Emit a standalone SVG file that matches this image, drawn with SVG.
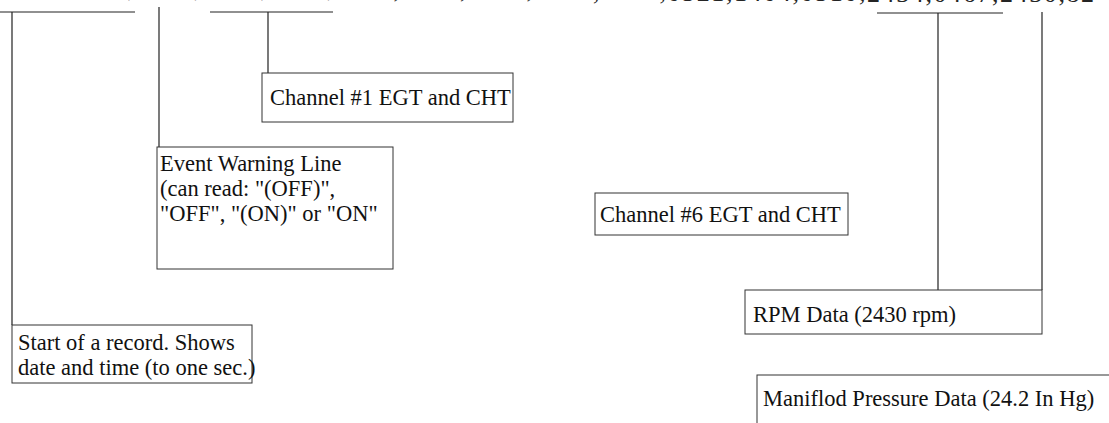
<svg xmlns="http://www.w3.org/2000/svg" width="1109" height="423" viewBox="0 0 1109 423">
<style>
text{font-family:"Liberation Serif","Times New Roman",serif;font-size:22.5px;fill:#111}
.data{font-size:26px;letter-spacing:1.6px;fill:#222;opacity:0.99}
.box{fill:#fff;stroke:#333;stroke-width:1}
.ln{stroke:#222;stroke-width:1.2;fill:none}
</style>
<rect width="1109" height="423" fill="#fff"/>
<text class="data" x="69" y="-3"><tspan>1401,0505,1398,0512,</tspan><tspan y="-2">1420,0519,1415,</tspan><tspan y="-0.5">0508,1412,</tspan><tspan y="0.5">0521,1404,0510,</tspan><tspan y="1.5">2434,0467,2430,82</tspan></text>
<g id="connectors">
<path class="ln" d="M0 12H135M12 12V325"/>
<path class="ln" d="M159 7V147"/>
<path class="ln" d="M210 12H333M268 12V73"/>
<path class="ln" d="M877 13H1003M938 13V290"/>
<path class="ln" d="M1042 12V290"/>
</g>
<g id="ch1"><rect class="box" x="262" y="73" width="251" height="49"/><text x="270" y="105">Channel #1 EGT and CHT</text></g>
<g id="event"><rect class="box" x="157" y="147" width="236" height="122"/><text x="160" y="171">Event Warning Line</text><text x="160" y="196">(can read: "(OFF)",</text><text x="160" y="221">"OFF", "(ON)" or "ON"</text></g>
<g id="ch6"><rect class="box" x="595" y="193" width="253" height="42"/><text x="600" y="222">Channel #6 EGT and CHT</text></g>
<g id="rpm"><rect class="box" x="745" y="290" width="297" height="44"/><text x="753" y="322">RPM Data (2430 rpm)</text></g>
<g id="start"><rect class="box" x="12" y="325" width="240" height="58"/><text x="18" y="350">Start of a record.  Shows</text><text x="18" y="375">date and time (to one sec.)</text></g>
<g id="manifold"><rect class="box" x="757" y="375" width="360" height="60"/><text x="763" y="406">Maniflod Pressure Data (24.2 In Hg)</text></g>
</svg>
